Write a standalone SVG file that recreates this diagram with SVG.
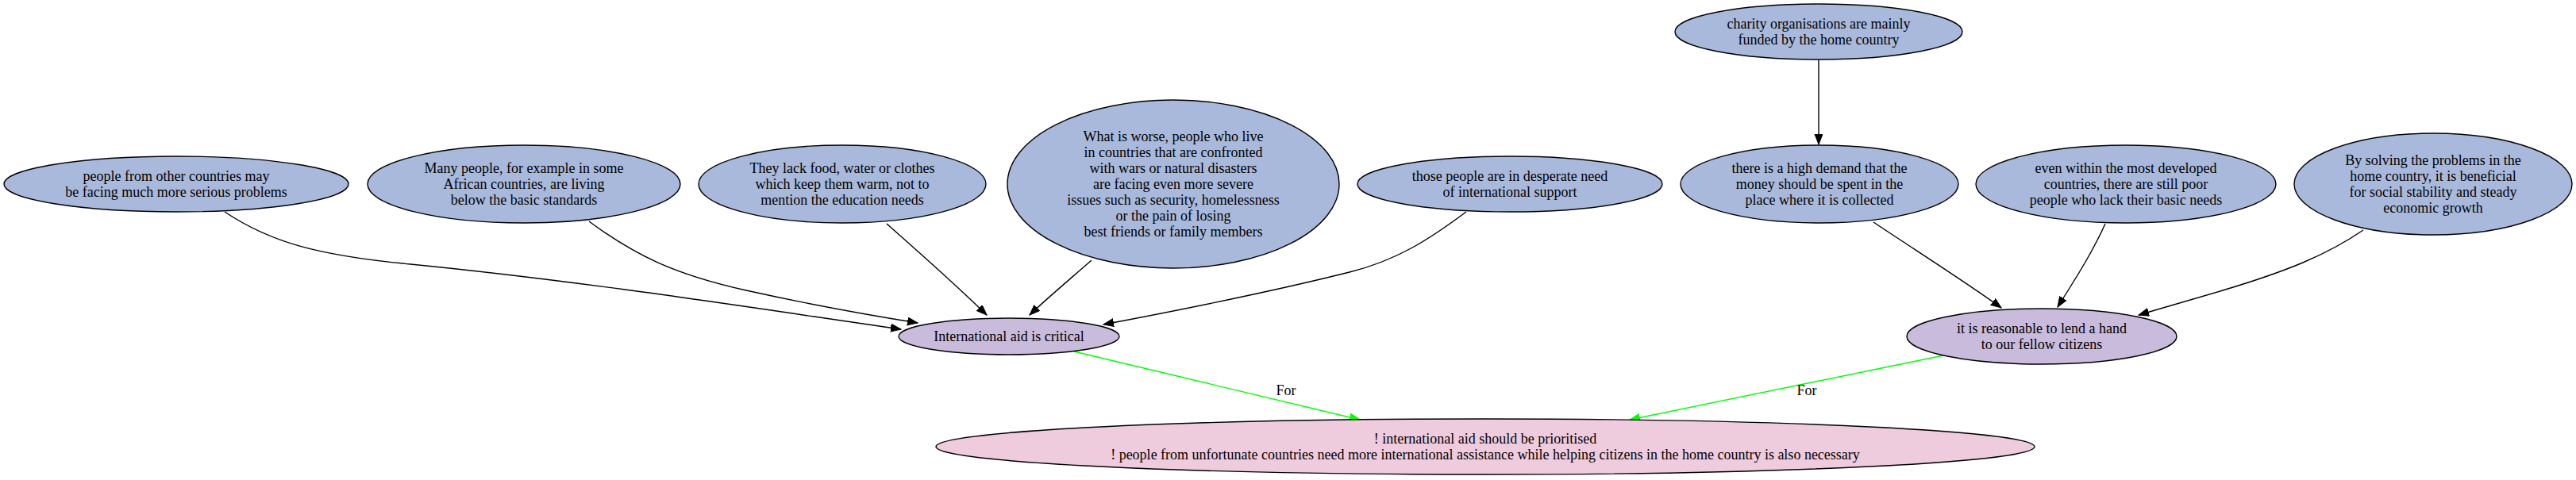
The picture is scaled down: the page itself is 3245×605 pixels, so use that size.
<svg xmlns="http://www.w3.org/2000/svg" width="3245" height="605" viewBox="0 0 3245 605">
<style>
.bg{fill:#ffffff}
.n ellipse{stroke:#000;stroke-width:1.4}
.blue ellipse{fill:#a9b9dc}
.purple ellipse{fill:#c9bbdc}
.pink ellipse{fill:#efcbde}
text{font-family:"Liberation Serif","Times New Roman",serif;font-size:18px;fill:#000;text-anchor:middle}
.e{fill:none;stroke:#000;stroke-width:1.4}
.g{fill:none;stroke:#00ff00;stroke-width:1.4}
</style>
<defs>
<marker id="ab" markerUnits="userSpaceOnUse" markerWidth="14" markerHeight="11" refX="13" refY="5" orient="auto"><path d="M0,0 L13,5 L0,10 z" fill="#000" stroke="#000" stroke-width="1"/></marker>
<marker id="ag" markerUnits="userSpaceOnUse" markerWidth="14" markerHeight="11" refX="13" refY="5" orient="auto"><path d="M0,0 L13,5 L0,10 z" fill="#00ff00" stroke="#00ff00" stroke-width="1"/></marker>
</defs>
<rect class="bg" x="0" y="0" width="3245" height="605"/>
<g id="connectors">
<path class="e" marker-end="url(#ab)" d="M283,267 C340,305 400,322 517,333 C750,356 980,393 1135,415"/>
<path class="e" marker-end="url(#ab)" d="M742,279 C800,322 850,346 940,366 C1030,386 1100,398 1156,407"/>
<path class="e" marker-end="url(#ab)" d="M1117,282 C1160,320 1200,355 1243,397"/>
<path class="e" marker-end="url(#ab)" d="M1375,328 C1350,350 1320,375 1297,397"/>
<path class="e" marker-end="url(#ab)" d="M1847,267 C1800,302 1760,328 1700,343 C1600,368 1480,392 1390,409"/>
<path class="e" marker-end="url(#ab)" d="M2291,76 L2291,182"/>
<path class="e" marker-end="url(#ab)" d="M2360,280 C2420,320 2480,358 2521,388"/>
<path class="e" marker-end="url(#ab)" d="M2652,282 C2635,320 2612,355 2592,387"/>
<path class="e" marker-end="url(#ab)" d="M2977,290 C2930,322 2880,342 2800,366 C2760,378 2725,388 2694,397"/>
<path class="g" marker-end="url(#ag)" d="M1353,443 L1713,529"/>
<path class="g" marker-end="url(#ag)" d="M2448,448 L2053,529"/>
<text x="1620" y="498">For</text>
<text x="2276" y="498">For</text>
</g>
<g id="n1" class="n blue"><ellipse cx="222" cy="232" rx="217" ry="35"/><text y="228"><tspan x="222">people from other countries may</tspan><tspan x="222" dy="20">be facing much more serious problems</tspan></text></g>
<g id="n2" class="n blue"><ellipse cx="660" cy="232" rx="197" ry="49"/><text y="218"><tspan x="660">Many people, for example in some</tspan><tspan x="660" dy="20">African countries, are living</tspan><tspan x="660" dy="20">below the basic standards</tspan></text></g>
<g id="n3" class="n blue"><ellipse cx="1061" cy="232" rx="181" ry="49"/><text y="218"><tspan x="1061">They lack food, water or clothes</tspan><tspan x="1061" dy="20">which keep them warm, not to</tspan><tspan x="1061" dy="20">mention the education needs</tspan></text></g>
<g id="n4" class="n blue"><ellipse cx="1478" cy="232" rx="209" ry="106"/><text y="178"><tspan x="1478">What is worse, people who live</tspan><tspan x="1478" dy="20">in countries that are confronted</tspan><tspan x="1478" dy="20">with wars or natural disasters</tspan><tspan x="1478" dy="20">are facing even more severe</tspan><tspan x="1478" dy="20">issues such as security, homelessness</tspan><tspan x="1478" dy="20">or the pain of losing</tspan><tspan x="1478" dy="20">best friends or family members</tspan></text></g>
<g id="n5" class="n blue"><ellipse cx="1902" cy="232" rx="192" ry="35"/><text y="228"><tspan x="1902">those people are in desperate need</tspan><tspan x="1902" dy="20">of international support</tspan></text></g>
<g id="n6" class="n blue"><ellipse cx="2291" cy="40" rx="181" ry="35"/><text y="36"><tspan x="2291">charity organisations are mainly</tspan><tspan x="2291" dy="20">funded by the home country</tspan></text></g>
<g id="n7" class="n blue"><ellipse cx="2292" cy="232" rx="175" ry="49"/><text y="218"><tspan x="2292">there is a high demand that the</tspan><tspan x="2292" dy="20">money should be spent in the</tspan><tspan x="2292" dy="20">place where it is collected</tspan></text></g>
<g id="n8" class="n blue"><ellipse cx="2678" cy="232" rx="189" ry="49"/><text y="218"><tspan x="2678">even within the most developed</tspan><tspan x="2678" dy="20">countries, there are still poor</tspan><tspan x="2678" dy="20">people who lack their basic needs</tspan></text></g>
<g id="n9" class="n blue"><ellipse cx="3065" cy="232" rx="175" ry="64"/><text y="208"><tspan x="3065">By solving the problems in the</tspan><tspan x="3065" dy="20">home country, it is beneficial</tspan><tspan x="3065" dy="20">for social stability and steady</tspan><tspan x="3065" dy="20">economic growth</tspan></text></g>
<g id="n10" class="n purple"><ellipse cx="1271" cy="424" rx="139" ry="23"/><text x="1271" y="430">International aid is critical</text></g>
<g id="n11" class="n purple"><ellipse cx="2572" cy="424" rx="170" ry="35"/><text y="420"><tspan x="2572">it is reasonable to lend a hand</tspan><tspan x="2572" dy="20">to our fellow citizens</tspan></text></g>
<g id="n12" class="n pink"><ellipse cx="1871" cy="563" rx="692" ry="35"/><text y="559"><tspan x="1871">! international aid should be prioritised</tspan><tspan x="1871" dy="20">! people from unfortunate countries need more international assistance while helping citizens in the home country is also necessary</tspan></text></g>
</svg>
